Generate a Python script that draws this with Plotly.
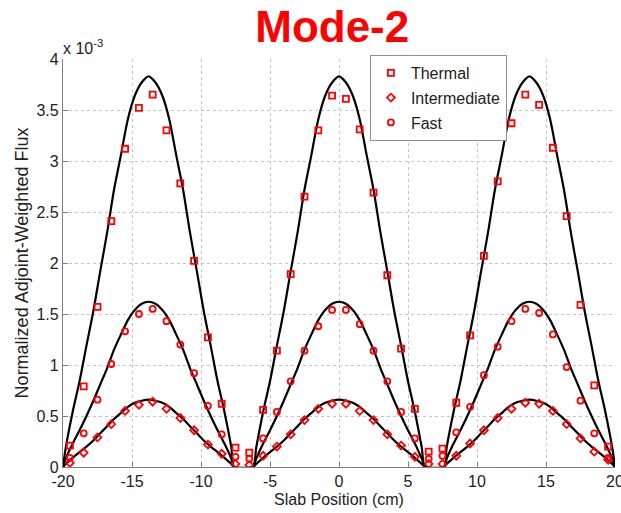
import plotly.graph_objects as go

# marker positions (cm) and values (x 1e-3)
pos = [-19.5, -18.5, -17.5, -16.5, -15.5, -14.5, -13.5, -12.5, -11.5, -10.5,
       -9.5, -8.5, -7.5, -6.5, -5.5, -4.5, -3.5, -2.5, -1.5, -0.5,
       0.5, 1.5, 2.5, 3.5, 4.5, 5.5, 6.5, 7.5, 8.5, 9.5,
       10.5, 11.5, 12.5, 13.5, 14.5, 15.5, 16.5, 17.5, 18.5, 19.5]
thermal = [0.21, 0.79, 1.57, 2.41, 3.12, 3.52, 3.65, 3.30, 2.78, 2.02,
           1.27, 0.62, 0.19, 0.14, 0.56, 1.14, 1.89, 2.65, 3.30, 3.64,
           3.61, 3.31, 2.69, 1.88, 1.16, 0.57, 0.15, 0.18, 0.63, 1.29,
           2.07, 2.80, 3.37, 3.65, 3.55, 3.13, 2.46, 1.59, 0.80, 0.20]
intermediate = [0.04, 0.14, 0.29, 0.42, 0.55, 0.61, 0.64, 0.57, 0.48, 0.36,
                0.22, 0.13, 0.03, 0.02, 0.11, 0.20, 0.32, 0.46, 0.57, 0.62,
                0.62, 0.55, 0.46, 0.32, 0.21, 0.10, 0.03, 0.03, 0.11, 0.23,
                0.36, 0.48, 0.57, 0.63, 0.62, 0.55, 0.42, 0.28, 0.15, 0.07]
fast = [0.09, 0.33, 0.66, 1.01, 1.33, 1.50, 1.55, 1.43, 1.20, 0.92,
        0.60, 0.32, 0.10, 0.08, 0.28, 0.54, 0.84, 1.14, 1.38, 1.54,
        1.54, 1.40, 1.14, 0.84, 0.54, 0.28, 0.08, 0.11, 0.34, 0.59,
        0.90, 1.18, 1.43, 1.55, 1.51, 1.30, 0.98, 0.65, 0.33, 0.09]

# solid reference curves
curve_x = [-20, -19.8, -19.3, -18.8, -18.3, -17.8, -17.3, -16.8, -16.3, -15.8,
           -15.3, -14.8, -14.3, -13.8, -13.3, -12.8, -12.3, -11.8, -11.3, -10.8,
           -10.3, -9.8, -9.3, -8.8, -8.3, -7.8, -7.6,
           -6.25, -6.0, -5.5, -5.0, -4.5, -4.0, -3.5, -3.0, -2.5, -2.0,
           -1.5, -1.0, -0.5, 0.0, 0.5, 1.0, 1.5, 2.0, 2.5, 3.0,
           3.5, 4.0, 4.5, 5.0, 5.5, 6.0, 6.25,
           7.6, 7.8, 8.3, 8.8, 9.3, 9.8, 10.3, 10.8, 11.3, 11.8,
           12.3, 12.8, 13.3, 13.8, 14.3, 14.8, 15.3, 15.8, 16.3, 16.8,
           17.3, 17.8, 18.3, 18.8, 19.3, 19.8, 20]
curve_thermal = [0, 0.19, 0.54, 0.84, 1.19, 1.53, 1.92, 2.30, 2.72, 3.06,
                 3.41, 3.64, 3.77, 3.83, 3.77, 3.64, 3.41, 3.06, 2.72, 2.30,
                 1.92, 1.53, 1.19, 0.84, 0.54, 0.19, 0,
                 0, 0.19, 0.54, 0.84, 1.19, 1.53, 1.92, 2.30, 2.72, 3.06,
                 3.41, 3.64, 3.77, 3.83, 3.77, 3.64, 3.41, 3.06, 2.72, 2.30,
                 1.92, 1.53, 1.19, 0.84, 0.54, 0.19, 0,
                 0, 0.19, 0.54, 0.84, 1.19, 1.53, 1.92, 2.30, 2.72, 3.06,
                 3.41, 3.64, 3.77, 3.83, 3.77, 3.64, 3.41, 3.06, 2.72, 2.30,
                 1.92, 1.53, 1.19, 0.84, 0.54, 0.19, 0]
curve_fast = [0, 0.08, 0.23, 0.36, 0.50, 0.65, 0.81, 0.97, 1.15, 1.30,
              1.44, 1.54, 1.60, 1.62, 1.60, 1.54, 1.44, 1.30, 1.15, 0.97,
              0.81, 0.65, 0.50, 0.36, 0.23, 0.08, 0,
              0, 0.08, 0.23, 0.36, 0.50, 0.65, 0.81, 0.97, 1.15, 1.30,
              1.44, 1.54, 1.60, 1.62, 1.60, 1.54, 1.44, 1.30, 1.15, 0.97,
              0.81, 0.65, 0.50, 0.36, 0.23, 0.08, 0,
              0, 0.08, 0.23, 0.36, 0.50, 0.65, 0.81, 0.97, 1.15, 1.30,
              1.44, 1.54, 1.60, 1.62, 1.60, 1.54, 1.44, 1.30, 1.15, 0.97,
              0.81, 0.65, 0.50, 0.36, 0.23, 0.08, 0]
curve_inter = [0, 0.03, 0.09, 0.145, 0.20, 0.26, 0.33, 0.40, 0.47, 0.53,
               0.59, 0.63, 0.65, 0.66, 0.65, 0.63, 0.59, 0.53, 0.47, 0.40,
               0.33, 0.26, 0.20, 0.145, 0.09, 0.03, 0,
               0, 0.03, 0.09, 0.145, 0.20, 0.26, 0.33, 0.40, 0.47, 0.53,
               0.59, 0.63, 0.65, 0.66, 0.65, 0.63, 0.59, 0.53, 0.47, 0.40,
               0.33, 0.26, 0.20, 0.145, 0.09, 0.03, 0,
               0, 0.03, 0.09, 0.145, 0.20, 0.26, 0.33, 0.40, 0.47, 0.53,
               0.59, 0.63, 0.65, 0.66, 0.65, 0.63, 0.59, 0.53, 0.47, 0.40,
               0.33, 0.26, 0.20, 0.145, 0.09, 0.03, 0]

x_ticks = [-20, -15, -10, -5, 0, 5, 10, 15, 20]
x_tick_labels = ["-20", "-15", "-10", "-5", "0", "5", "10", "15", "20"]
y_ticks = [0, 0.5, 1, 1.5, 2, 2.5, 3, 3.5, 4]
y_tick_labels = ["0", "0.5", "1", "1.5", "2", "2.5", "3", "3.5", "4"]

FONT = "Liberation Sans, Arial, sans-serif"
fig = go.Figure()

for cy in (curve_thermal, curve_fast, curve_inter):
    fig.add_trace(go.Scatter(x=curve_x, y=cy, mode="lines",
                             line=dict(color="black", width=2.2, shape="spline", smoothing=0.8),
                             showlegend=False, hoverinfo="skip"))

series = [("Thermal", thermal, "square-open"),
          ("Intermediate", intermediate, "diamond-open"),
          ("Fast", fast, "circle-open")]
for name, vals, sym in series:
    fig.add_trace(go.Scatter(x=pos, y=vals, mode="markers", name=name, legendgroup=name,
                             marker=dict(symbol=sym, color="red", size=6,
                                         line=dict(color="red", width=1.8))))

axis_common = dict(showgrid=True, gridcolor="#c4c4c4", griddash="dot", gridwidth=1,
                   showline=True, linecolor="#808080", linewidth=1.2,
                   ticks="inside", ticklen=5, tickcolor="#808080",
                   tickfont=dict(family=FONT, size=16, color="#222"),
                   ticklabeloverflow="allow", automargin=False,
                   zeroline=False, mirror=False)

fig.update_layout(
    width=621, height=513,
    margin=dict(l=63, r=6, t=59, b=46),
    paper_bgcolor="white", plot_bgcolor="white",
    title=dict(text="<b>Mode-2</b>", x=0.535, xanchor="center", y=0.948, yanchor="middle",
               font=dict(family=FONT, size=44, color="#ff0000")),
    xaxis=dict(range=[-20, 20], tickvals=x_ticks, ticktext=x_tick_labels,
               title=dict(text="Slab Position (cm)", standoff=4,
                          font=dict(family=FONT, size=16, color="#222")),
               **axis_common),
    yaxis=dict(range=[0, 4], tickvals=y_ticks, ticktext=y_tick_labels,
               title=dict(text="Normalized Adjoint-Weighted Flux", standoff=3,
                          font=dict(family=FONT, size=18, color="#222")),
               **axis_common),
    legend=dict(x=0.556, y=1.01, xanchor="left", yanchor="top",
                bgcolor="white", bordercolor="#909090", borderwidth=1,
                font=dict(family=FONT, size=16, color="#222"),
                tracegroupgap=1),
    annotations=[dict(text="x 10<sup>-3</sup>", x=0, y=1.0, xref="paper", yref="paper",
                      xanchor="left", yanchor="bottom", showarrow=False, xshift=-2,
                      font=dict(family=FONT, size=16, color="#222"))],
)

fig.write_html("out.html")
